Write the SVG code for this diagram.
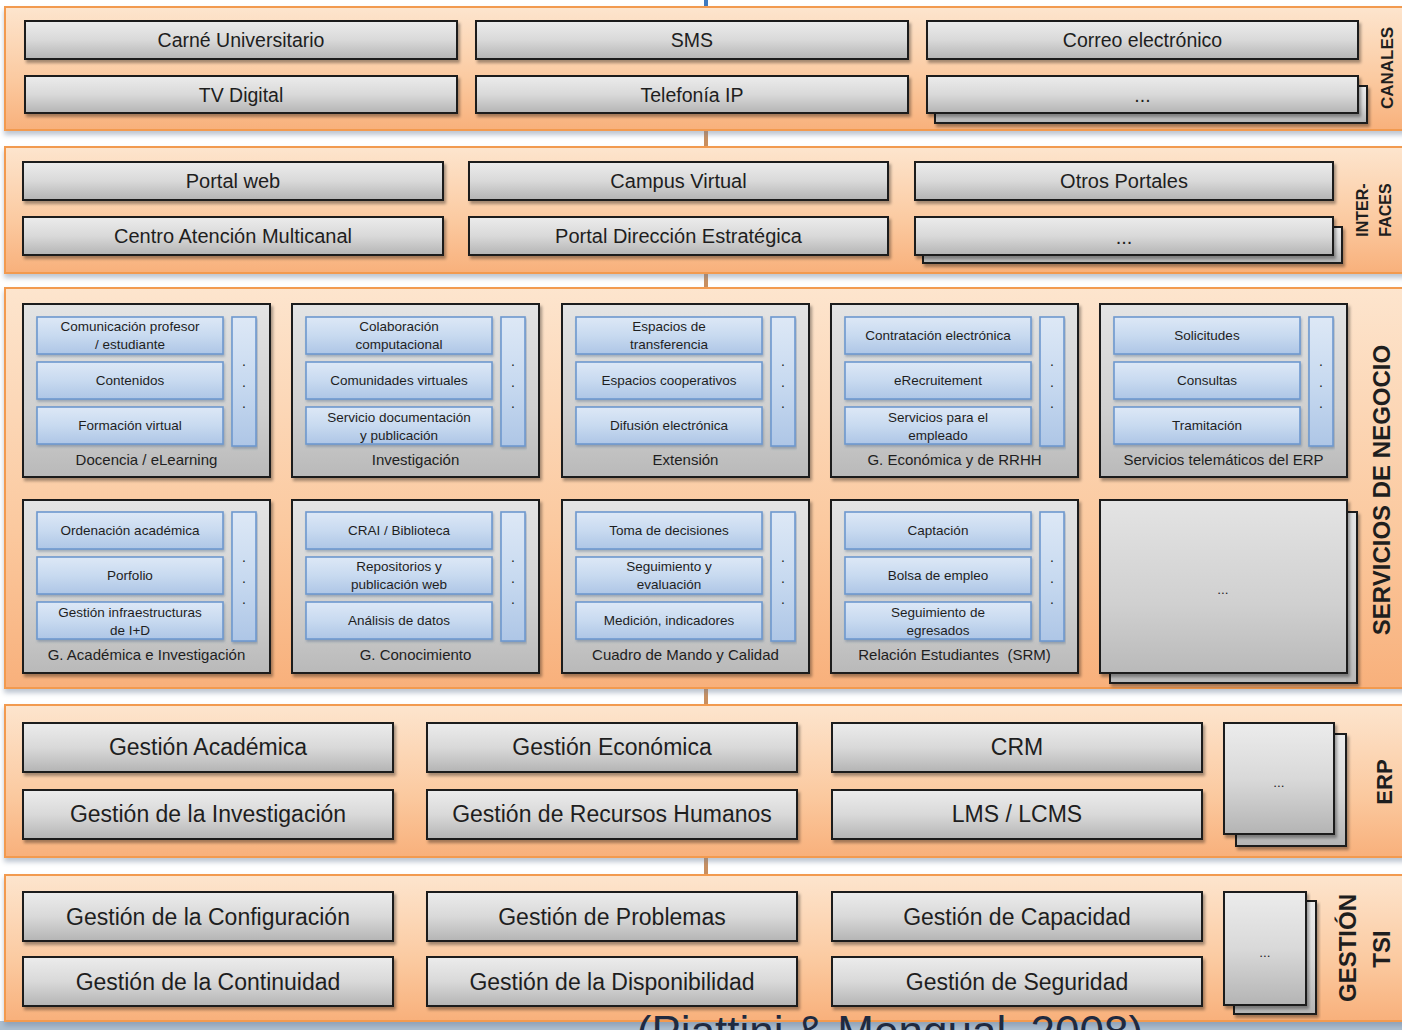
<svg xmlns="http://www.w3.org/2000/svg" width="1402" height="1030" viewBox="0 0 1402 1030">
<defs>
<linearGradient id="gPanel" x1="0" y1="0" x2="0" y2="1">
<stop offset="0" stop-color="#fde5ce"/><stop offset="0.6" stop-color="#fbc99f"/><stop offset="1" stop-color="#f8b07b"/>
</linearGradient>
<linearGradient id="gGray" x1="0" y1="0" x2="0" y2="1">
<stop offset="0" stop-color="#ececec"/><stop offset="0.5" stop-color="#d9d9d9"/><stop offset="1" stop-color="#b4b4b4"/>
</linearGradient>
<linearGradient id="gGroup" x1="0" y1="0" x2="0" y2="1">
<stop offset="0" stop-color="#e4e4e4"/><stop offset="0.6" stop-color="#d0d0d0"/><stop offset="1" stop-color="#b9b9b9"/>
</linearGradient>
<linearGradient id="gBlue" x1="0" y1="0" x2="0" y2="1">
<stop offset="0" stop-color="#dde8f6"/><stop offset="0.5" stop-color="#c8daf0"/><stop offset="1" stop-color="#aec6e6"/>
</linearGradient>
<filter id="shP" x="-2%" y="-5%" width="104%" height="115%">
<feDropShadow dx="0" dy="4" stdDeviation="2.5" flood-color="#6f819a" flood-opacity="0.45"/>
</filter>
<filter id="shB" x="-5%" y="-10%" width="110%" height="130%">
<feDropShadow dx="2" dy="3" stdDeviation="1.8" flood-color="#000" flood-opacity="0.35"/>
</filter>
<filter id="shS" x="-5%" y="-10%" width="110%" height="130%">
<feDropShadow dx="1" dy="2" stdDeviation="1.2" flood-color="#3a5a80" flood-opacity="0.35"/>
</filter>
</defs>
<style>
.panel{fill:url(#gPanel);stroke:#f29a50;stroke-width:2;filter:url(#shP)}
.gbox{fill:url(#gGray);stroke:#1a1a1a;stroke-width:2;filter:url(#shB)}
.grp{fill:url(#gGroup);stroke:#1a1a1a;stroke-width:2;filter:url(#shB)}
.bbox{fill:url(#gBlue);stroke:#6d98cf;stroke-width:1.6;filter:url(#shS)}
text{font-family:"Liberation Sans",Arial,sans-serif;fill:#1e1e1e}
.t1{font-size:19.5px;text-anchor:middle}
.t2{font-size:20px;text-anchor:middle}
.t3{font-size:23px;text-anchor:middle}
.tb{font-size:13.5px;text-anchor:middle}
.tg{font-size:15px;text-anchor:middle}
.td{font-size:14px}
.lab{font-weight:bold;text-anchor:middle}
.cap{font-size:44px;text-anchor:middle;fill:#1f2a40}
</style>
<rect x="0" y="0" width="1402" height="1030" fill="#ffffff"/>
<rect x="0" y="1021" width="1402" height="9" fill="#adbfd0"/>

<g id="connectors">
<line x1="706" y1="0" x2="706" y2="8" stroke="#3f7ac0" stroke-width="4"/>
<line x1="706" y1="130" x2="706" y2="148" stroke="#c98f5f" stroke-width="4"/>
<line x1="706" y1="273" x2="706" y2="289" stroke="#c98f5f" stroke-width="4"/>
<line x1="706" y1="688" x2="706" y2="706" stroke="#c98f5f" stroke-width="4"/>
<line x1="706" y1="857" x2="706" y2="876" stroke="#c98f5f" stroke-width="4"/>
</g>

<g id="canales">
<rect class="panel" x="5" y="7" width="1405" height="123"/>
<text class="lab" font-size="17" transform="translate(1387,68) rotate(-90)" dy="0.36em">CANALES</text>
</g>
<g id="carne"><rect class="gbox" x="25" y="21" width="432" height="38"/><text class="t1" x="241" y="47">Carné Universitario</text></g>
<g id="sms"><rect class="gbox" x="476" y="21" width="432" height="38"/><text class="t1" x="692" y="47">SMS</text></g>
<g id="correo"><rect class="gbox" x="927" y="21" width="431" height="38"/><text class="t1" x="1142.5" y="47">Correo electrónico</text></g>
<g id="tv"><rect class="gbox" x="25" y="76" width="432" height="37"/><text class="t1" x="241" y="102">TV Digital</text></g>
<g id="telefonia"><rect class="gbox" x="476" y="76" width="432" height="37"/><text class="t1" x="692" y="102">Telefonía IP</text></g>
<g id="canales-more"><rect class="gbox" x="935" y="86" width="432" height="37"/><rect class="gbox" x="927" y="76" width="431" height="37"/><text class="t1" x="1142.5" y="102" font-size="15">...</text></g>

<g id="interfaces">
<rect class="panel" x="5" y="147" width="1405" height="126"/>
<text class="lab" font-size="16" transform="translate(1362,210) rotate(-90)" dy="0.36em">INTER-</text>
<text class="lab" font-size="16" transform="translate(1385,210) rotate(-90)" dy="0.36em">FACES</text>
</g>
<g id="portal"><rect class="gbox" x="23" y="162" width="420" height="38"/><text class="t2" x="233" y="188">Portal web</text></g>
<g id="campus"><rect class="gbox" x="469" y="162" width="419" height="38"/><text class="t2" x="678.5" y="188">Campus Virtual</text></g>
<g id="otros"><rect class="gbox" x="915" y="162" width="418" height="38"/><text class="t2" x="1124" y="188">Otros Portales</text></g>
<g id="centro"><rect class="gbox" x="23" y="217" width="420" height="38"/><text class="t2" x="233" y="243">Centro Atención Multicanal</text></g>
<g id="direccion"><rect class="gbox" x="469" y="217" width="419" height="38"/><text class="t2" x="678.5" y="243">Portal Dirección Estratégica</text></g>
<g id="interfaces-more"><rect class="gbox" x="923" y="227" width="419" height="36"/><rect class="gbox" x="915" y="217" width="418" height="38"/><text class="t2" x="1124" y="244" font-size="15">...</text></g>

<g id="servicios">
<rect class="panel" x="5" y="288" width="1405" height="400"/>
<text class="lab" font-size="24" transform="translate(1381,490) rotate(-90)" dy="0.36em">SERVICIOS DE NEGOCIO</text>
</g>

<g id="docencia">
<rect class="grp" x="23" y="304" width="247" height="173"/>
<rect class="bbox" x="37" y="317" width="186" height="37"/><text class="tb" x="130" y="331">Comunicación profesor</text><text class="tb" x="130" y="349">/ estudiante</text>
<rect class="bbox" x="37" y="362" width="186" height="37"/><text class="tb" x="130" y="385">Contenidos</text>
<rect class="bbox" x="37" y="407" width="186" height="37"/><text class="tb" x="130" y="430">Formación virtual</text>
<rect class="bbox" x="232" y="317" width="24" height="129"/><text class="td" x="242 242 242" y="366 387 408">...</text>
<text class="tg" x="146.5" y="465">Docencia / eLearning</text>
</g>
<g id="investigacion">
<rect class="grp" x="292" y="304" width="247" height="173"/>
<rect class="bbox" x="306" y="317" width="186" height="37"/><text class="tb" x="399" y="331">Colaboración</text><text class="tb" x="399" y="349">computacional</text>
<rect class="bbox" x="306" y="362" width="186" height="37"/><text class="tb" x="399" y="385">Comunidades virtuales</text>
<rect class="bbox" x="306" y="407" width="186" height="37"/><text class="tb" x="399" y="422">Servicio documentación</text><text class="tb" x="399" y="440">y publicación</text>
<rect class="bbox" x="501" y="317" width="24" height="129"/><text class="td" x="511 511 511" y="366 387 408">...</text>
<text class="tg" x="415.5" y="465">Investigación</text>
</g>
<g id="extension">
<rect class="grp" x="562" y="304" width="247" height="173"/>
<rect class="bbox" x="576" y="317" width="186" height="37"/><text class="tb" x="669" y="331">Espacios de</text><text class="tb" x="669" y="349">transferencia</text>
<rect class="bbox" x="576" y="362" width="186" height="37"/><text class="tb" x="669" y="385">Espacios cooperativos</text>
<rect class="bbox" x="576" y="407" width="186" height="37"/><text class="tb" x="669" y="430">Difusión electrónica</text>
<rect class="bbox" x="771" y="317" width="24" height="129"/><text class="td" x="781 781 781" y="366 387 408">...</text>
<text class="tg" x="685.5" y="465">Extensión</text>
</g>
<g id="economica">
<rect class="grp" x="831" y="304" width="247" height="173"/>
<rect class="bbox" x="845" y="317" width="186" height="37"/><text class="tb" x="938" y="340">Contratación electrónica</text>
<rect class="bbox" x="845" y="362" width="186" height="37"/><text class="tb" x="938" y="385">eRecruitement</text>
<rect class="bbox" x="845" y="407" width="186" height="37"/><text class="tb" x="938" y="422">Servicios para el</text><text class="tb" x="938" y="440">empleado</text>
<rect class="bbox" x="1040" y="317" width="24" height="129"/><text class="td" x="1050 1050 1050" y="366 387 408">...</text>
<text class="tg" x="954.5" y="465">G. Económica y de RRHH</text>
</g>
<g id="telematicos">
<rect class="grp" x="1100" y="304" width="247" height="173"/>
<rect class="bbox" x="1114" y="317" width="186" height="37"/><text class="tb" x="1207" y="340">Solicitudes</text>
<rect class="bbox" x="1114" y="362" width="186" height="37"/><text class="tb" x="1207" y="385">Consultas</text>
<rect class="bbox" x="1114" y="407" width="186" height="37"/><text class="tb" x="1207" y="430">Tramitación</text>
<rect class="bbox" x="1309" y="317" width="24" height="129"/><text class="td" x="1319 1319 1319" y="366 387 408">...</text>
<text class="tg" x="1223.5" y="465">Servicios telemáticos del ERP</text>
</g>

<g id="academica">
<rect class="grp" x="23" y="500" width="247" height="173"/>
<rect class="bbox" x="37" y="512" width="186" height="37"/><text class="tb" x="130" y="535">Ordenación académica</text>
<rect class="bbox" x="37" y="557" width="186" height="37"/><text class="tb" x="130" y="580">Porfolio</text>
<rect class="bbox" x="37" y="602" width="186" height="37"/><text class="tb" x="130" y="617">Gestión infraestructuras</text><text class="tb" x="130" y="635">de I+D</text>
<rect class="bbox" x="232" y="512" width="24" height="129"/><text class="td" x="242 242 242" y="562 583 604">...</text>
<text class="tg" x="146.5" y="660">G. Académica e Investigación</text>
</g>
<g id="conocimiento">
<rect class="grp" x="292" y="500" width="247" height="173"/>
<rect class="bbox" x="306" y="512" width="186" height="37"/><text class="tb" x="399" y="535">CRAI / Biblioteca</text>
<rect class="bbox" x="306" y="557" width="186" height="37"/><text class="tb" x="399" y="571">Repositorios y</text><text class="tb" x="399" y="589">publicación web</text>
<rect class="bbox" x="306" y="602" width="186" height="37"/><text class="tb" x="399" y="625">Análisis de datos</text>
<rect class="bbox" x="501" y="512" width="24" height="129"/><text class="td" x="511 511 511" y="562 583 604">...</text>
<text class="tg" x="415.5" y="660">G. Conocimiento</text>
</g>
<g id="cuadro">
<rect class="grp" x="562" y="500" width="247" height="173"/>
<rect class="bbox" x="576" y="512" width="186" height="37"/><text class="tb" x="669" y="535">Toma de decisiones</text>
<rect class="bbox" x="576" y="557" width="186" height="37"/><text class="tb" x="669" y="571">Seguimiento y</text><text class="tb" x="669" y="589">evaluación</text>
<rect class="bbox" x="576" y="602" width="186" height="37"/><text class="tb" x="669" y="625">Medición, indicadores</text>
<rect class="bbox" x="771" y="512" width="24" height="129"/><text class="td" x="781 781 781" y="562 583 604">...</text>
<text class="tg" x="685.5" y="660">Cuadro de Mando y Calidad</text>
</g>
<g id="srm">
<rect class="grp" x="831" y="500" width="247" height="173"/>
<rect class="bbox" x="845" y="512" width="186" height="37"/><text class="tb" x="938" y="535">Captación</text>
<rect class="bbox" x="845" y="557" width="186" height="37"/><text class="tb" x="938" y="580">Bolsa de empleo</text>
<rect class="bbox" x="845" y="602" width="186" height="37"/><text class="tb" x="938" y="617">Seguimiento de</text><text class="tb" x="938" y="635">egresados</text>
<rect class="bbox" x="1040" y="512" width="24" height="129"/><text class="td" x="1050 1050 1050" y="562 583 604">...</text>
<text class="tg" x="954.5" y="660" style="white-space:pre">Relación Estudiantes  (SRM)</text>
</g>
<g id="servicios-more">
<rect class="grp" x="1110" y="512" width="247" height="171"/>
<rect class="grp" x="1100" y="500" width="247" height="173"/>
<text class="tb" x="1223" y="594">...</text>
</g>

<g id="erp">
<rect class="panel" x="5" y="705" width="1405" height="152"/>
<text class="lab" font-size="22" transform="translate(1384,782) rotate(-90)" dy="0.36em">ERP</text>
</g>
<g id="g-academica"><rect class="gbox" x="23" y="723" width="370" height="49"/><text class="t3" x="208" y="755">Gestión Académica</text></g>
<g id="g-economica"><rect class="gbox" x="427" y="723" width="370" height="49"/><text class="t3" x="612" y="755">Gestión Económica</text></g>
<g id="crm"><rect class="gbox" x="832" y="723" width="370" height="49"/><text class="t3" x="1017" y="755">CRM</text></g>
<g id="g-investigacion"><rect class="gbox" x="23" y="790" width="370" height="49"/><text class="t3" x="208" y="822">Gestión de la Investigación</text></g>
<g id="g-rrhh"><rect class="gbox" x="427" y="790" width="370" height="49"/><text class="t3" x="612" y="822">Gestión de Recursos Humanos</text></g>
<g id="lms"><rect class="gbox" x="832" y="790" width="370" height="49"/><text class="t3" x="1017" y="822">LMS / LCMS</text></g>
<g id="erp-more"><rect class="gbox" x="1236" y="734" width="110" height="112"/><rect class="gbox" x="1224" y="723" width="110" height="111"/><text class="tb" x="1279" y="787" font-size="15">...</text></g>

<g id="tsi">
<rect class="panel" x="5" y="875" width="1405" height="146"/>
<text class="lab" font-size="24" transform="translate(1347,948) rotate(-90)" dy="0.36em">GESTIÓN</text>
<text class="lab" font-size="24" transform="translate(1381,949) rotate(-90)" dy="0.36em">TSI</text>
</g>
<g id="configuracion"><rect class="gbox" x="23" y="892" width="370" height="49"/><text class="t3" x="208" y="925">Gestión de la Configuración</text></g>
<g id="problemas"><rect class="gbox" x="427" y="892" width="370" height="49"/><text class="t3" x="612" y="925">Gestión de Problemas</text></g>
<g id="capacidad"><rect class="gbox" x="832" y="892" width="370" height="49"/><text class="t3" x="1017" y="925">Gestión de Capacidad</text></g>
<g id="continuidad"><rect class="gbox" x="23" y="957" width="370" height="49"/><text class="t3" x="208" y="990">Gestión de la Continuidad</text></g>
<g id="disponibilidad"><rect class="gbox" x="427" y="957" width="370" height="49"/><text class="t3" x="612" y="990">Gestión de la Disponibilidad</text></g>
<g id="seguridad"><rect class="gbox" x="832" y="957" width="370" height="49"/><text class="t3" x="1017" y="990">Gestión de Seguridad</text></g>
<g id="tsi-more"><rect class="gbox" x="1234" y="901" width="82" height="113"/><rect class="gbox" x="1224" y="892" width="82" height="113"/><text class="tb" x="1265" y="957" font-size="15">...</text></g>

<g id="caption"><text class="cap" x="890" y="1047">(Piattini &amp; Mengual, 2008)</text></g>
</svg>
